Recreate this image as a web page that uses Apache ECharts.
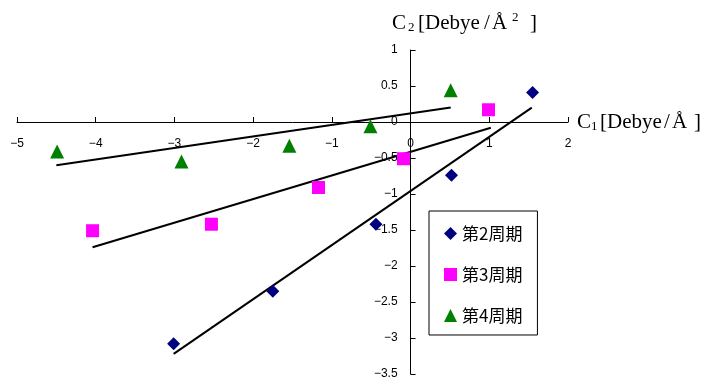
<!DOCTYPE html>
<html>
<head>
<meta charset="utf-8">
<script src="https://cdn.jsdelivr.net/npm/echarts@6/dist/echarts.min.js"></script>
<style>html,body{margin:0;padding:0;background:#fff}#c{width:707px;height:380px}</style>
</head>
<body>
<div id="c"></div>
<script>
// Series names
const seriesNames = ['第2周期', '第3周期', '第4周期'];
// Scatter data [C1, C2]
const period2 = [[1.55, 0.41], [0.52, -0.74], [-0.44, -1.42], [-1.75, -2.35], [-3.01, -3.08]];
const period3 = [[0.99, 0.17], [-0.09, -0.51], [-1.17, -0.91], [-2.53, -1.42], [-4.04, -1.51]];
const period4 = [[0.51, 0.44], [-0.51, -0.06], [-1.54, -0.33], [-2.91, -0.55], [-4.49, -0.41]];
// Trend line endpoints
const trend2 = [[-3.01, -3.22], [1.54, 0.20]];
const trend3 = [[-4.04, -1.74], [1.02, -0.08]];
const trend4 = [[-4.50, -0.60], [0.51, 0.20]];
// Axis ranges
const xRange = { min: -5, max: 2, interval: 1 };
const yRange = { min: -3.5, max: 1, interval: 0.5 };

const colors = ['#000080', '#FF00FF', '#008000'];
const symbols = ['diamond', 'rect', 'triangle'];
const sizes = [13, 13, 14];
const scatterData = [period2, period3, period4];
const trends = [trend2, trend3, trend4];

const W = 707, H = 380;
const grid = { left: 17, right: 139, top: 50, bottom: 6 };
const gridW = W - grid.left - grid.right;
const gridH = H - grid.top - grid.bottom;
// axes cross at zero
const xAxisOffset = -gridH * (0 - yRange.min) / (yRange.max - yRange.min);
const yAxisOffset = -gridW * (0 - xRange.min) / (xRange.max - xRange.min);

const chart = echarts.init(document.getElementById('c'), null, { renderer: 'canvas' });
const tickFont = { fontFamily: 'Liberation Sans', fontSize: 12, color: '#000' };
const minusFmt = v => String(v).replace('-', '\u2212');

const series = [];
trends.forEach((t, i) => {
  series.push({
    name: 'trend' + i, type: 'line', data: t, showSymbol: false, symbol: 'none',
    lineStyle: { color: '#000', width: 2 }, silent: true, z: 2
  });
});
scatterData.forEach((d, i) => {
  series.push({
    name: seriesNames[i], type: 'scatter', data: d, symbol: symbols[i], symbolSize: sizes[i],
    itemStyle: { color: colors[i], opacity: 1 }, z: 3
  });
});

const serif = 'Liberation Serif';
function txt(x, y, s, size) {
  return { type: 'text', x: x, y: y, silent: true,
    style: { text: s, fontFamily: serif, fontSize: size, fill: '#000', verticalAlign: 'middle', align: 'left' } };
}

chart.setOption({
  animation: false,
  backgroundColor: '#fff',
  grid: Object.assign({ containLabel: false, outerBoundsMode: 'none' }, grid),
  xAxis: {
    type: 'value', min: xRange.min, max: xRange.max, interval: xRange.interval,
    position: 'bottom', offset: xAxisOffset,
    axisLine: { onZero: false, lineStyle: { color: '#000', width: 1 } },
    axisTick: { show: true, inside: true, length: 5, lineStyle: { color: '#000' } },
    axisLabel: Object.assign({ margin: 16, formatter: minusFmt }, tickFont),
    splitLine: { show: false }
  },
  yAxis: {
    type: 'value', min: yRange.min, max: yRange.max, interval: yRange.interval,
    position: 'left', offset: yAxisOffset,
    axisLine: { onZero: false, lineStyle: { color: '#000', width: 1 } },
    axisTick: { show: true, inside: true, length: 5, lineStyle: { color: '#000' } },
    axisLabel: Object.assign({ margin: 13, formatter: minusFmt }, tickFont),
    splitLine: { show: false }
  },
  legend: {
    data: seriesNames.map((n, i) => ({ name: n, icon: symbols[i] })),
    orient: 'vertical', left: 429, top: 211,
    itemWidth: 13, itemHeight: 13, itemGap: 24, itemTextGap: 5,
    padding: [14, 15, 11, 15],
    borderColor: '#000', borderWidth: 1,
    textStyle: { fontFamily: 'Noto Sans CJK JP', fontSize: 17, color: '#000' },
    selectedMode: false
  },
  graphic: [
    txt(392, 23, 'C', 21), txt(408, 28, '2', 13), txt(418, 23, '[Debye', 21),
    txt(484, 23, '/', 21), txt(492, 23, 'Å', 21), txt(512, 18, '2', 13), txt(530, 23, ']', 21),
    txt(577, 122, 'C', 21), txt(591, 127, '1', 13), txt(600, 122, '[Debye', 21),
    txt(664, 122, '/', 21), txt(672, 122, 'Å', 21), txt(694, 122, ']', 21)
  ],
  series: series
});
</script>
</body>
</html>
